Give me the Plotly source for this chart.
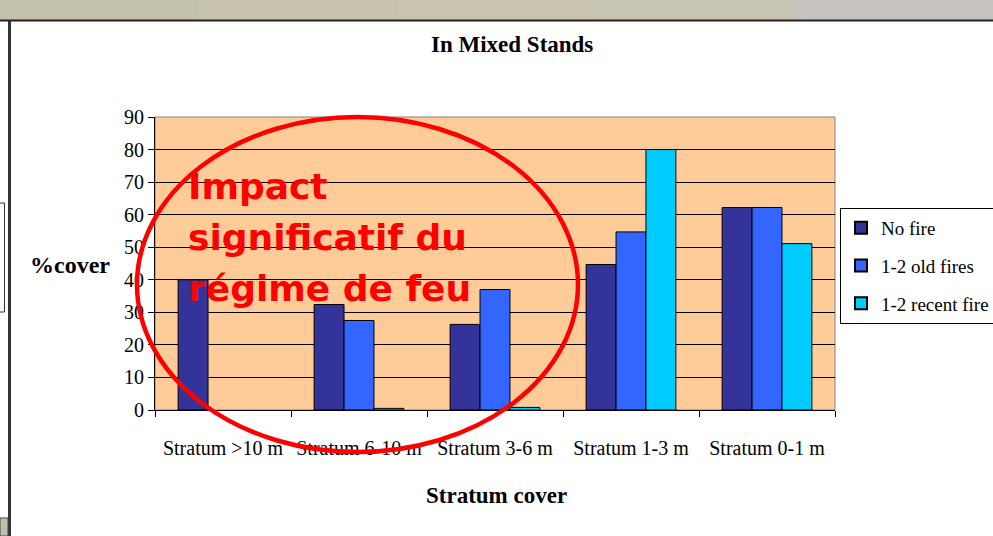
import plotly.graph_objects as go

categories = ["Stratum >10 m", "Stratum 6-10 m", "Stratum 3-6 m", "Stratum 1-3 m", "Stratum 0-1 m"]
no_fire = [40, 32.4, 26.3, 44.7, 62.2]
old_fires = [0, 27.5, 37, 54.7, 62.2]
recent_fires = [0, 0.5, 0.8, 80, 51.1]
series_names = ["No fire", "1-2 old fires", "1-2 recent fire"]
series_colors = ["#333399", "#3366FF", "#00CCFF"]
y_ticks = list(range(0, 91, 10))

W, H = 993, 536
L, R, T, B = 155, 835, 117, 410
PW, PH = R - L, B - T

def px(x):
    return (x - L) / PW

def py(y):
    return 1 - (y - T) / PH

serif = "Liberation Serif, Times New Roman, serif"

fig = go.Figure()
for name, vals, col in zip(series_names, [no_fire, old_fires, recent_fires], series_colors):
    fig.add_trace(go.Bar(x=categories, y=vals, name=name, legendgroup=name,
                         marker=dict(color=col,
                                     line=dict(color="black", width=[1 if v > 0 else 0 for v in vals]))))

shapes = []
# slide frame decorations
band_cols = ["#C2C2AC", "#C6C2AE", "#C8C4B0", "#C6C6B2", "#C8C2C0"]
bw = W / len(band_cols)
for i, c in enumerate(band_cols):
    shapes.append(dict(type="rect", xref="paper", yref="paper",
                       x0=px(i * bw), x1=px((i + 1) * bw + 1), y0=py(20), y1=py(0),
                       fillcolor=c, line=dict(width=0), layer="above"))
shapes.append(dict(type="line", xref="paper", yref="paper", x0=px(0), x1=px(W), y0=py(20.5), y1=py(20.5),
                   line=dict(color="#222222", width=2)))
shapes.append(dict(type="line", xref="paper", yref="paper", x0=px(9.5), x1=px(9.5), y0=py(21), y1=py(W),
                   line=dict(color="#333333", width=3)))
shapes.append(dict(type="rect", xref="paper", yref="paper", x0=px(0), x1=px(8), y0=py(536), y1=py(518),
                   fillcolor="#BCC0AC", line=dict(color="#444444", width=1)))
shapes.append(dict(type="rect", xref="paper", yref="paper", x0=px(-2), x1=px(4.5), y0=py(312), y1=py(203),
                   fillcolor="rgba(0,0,0,0)", line=dict(color="#333333", width=1)))
# plot area border (gray)
shapes.append(dict(type="rect", xref="paper", yref="paper", x0=0, x1=1, y0=0, y1=1,
                   line=dict(color="#808080", width=1), layer="below"))
# red ellipse
shapes.append(dict(type="circle", xref="paper", yref="paper",
                   x0=px(137), x1=px(578), y0=py(452), y1=py(117),
                   line=dict(color="#FF0000", width=4.5)))

annotations = [
    dict(text="<b>In Mixed Stands</b>", x=px(512), y=py(45), xref="paper", yref="paper",
         showarrow=False, font=dict(family=serif, size=23, color="black"), xanchor="center", yanchor="middle"),
    dict(text="<b>%cover</b>", x=px(70), y=py(265), xref="paper", yref="paper",
         showarrow=False, font=dict(family=serif, size=24, color="black"), xanchor="center", yanchor="middle"),
    dict(text="<b>Stratum cover</b>", x=px(496), y=py(495), xref="paper", yref="paper",
         showarrow=False, font=dict(family=serif, size=23, color="black"), xanchor="center", yanchor="middle"),
]
red_lines = ["Impact", "significatif du", "régime de feu"]
for txt, yy in zip(red_lines, [186, 237, 288]):
    annotations.append(dict(text="<b>" + txt + "</b>", x=px(186), y=py(yy), xref="paper", yref="paper",
                            showarrow=False, xanchor="left", yanchor="middle",
                            font=dict(family="DejaVu Sans, sans-serif", size=36, color="#FF0000")))

fig.update_layout(
    width=W, height=H,
    margin=dict(l=L, r=W - R, t=T, b=H - B, autoexpand=False),
    paper_bgcolor="white", plot_bgcolor="#FFCC99",
    barmode="group", bargap=0.34, bargroupgap=0,
    showlegend=True,
    legend=dict(x=px(840), y=py(208), xanchor="left", yanchor="top",
                bgcolor="white", bordercolor="black", borderwidth=1,
                font=dict(family=serif, size=19, color="black"),
                tracegroupgap=10, traceorder="grouped", itemsizing="constant"),
    shapes=shapes, annotations=annotations,
    xaxis=dict(showline=True, linecolor="black", linewidth=1, ticks="outside", tickson="boundaries",
               ticklen=6, tickcolor="black", showgrid=False,
               tickfont=dict(family=serif, size=20, color="black"), ticklabelstandoff=20),
    yaxis=dict(range=[0, 90], tickvals=y_ticks, showline=True, linecolor="black", linewidth=1,
               ticks="outside", ticklen=6, tickcolor="black", showgrid=True, gridcolor="black",
               gridwidth=1, zeroline=False, tickfont=dict(family=serif, size=20, color="black")),
)

fig.write_html("out.html", config={"displayModeBar": False},
               post_script="document.body.style.margin='0';document.body.style.overflow='hidden';")
